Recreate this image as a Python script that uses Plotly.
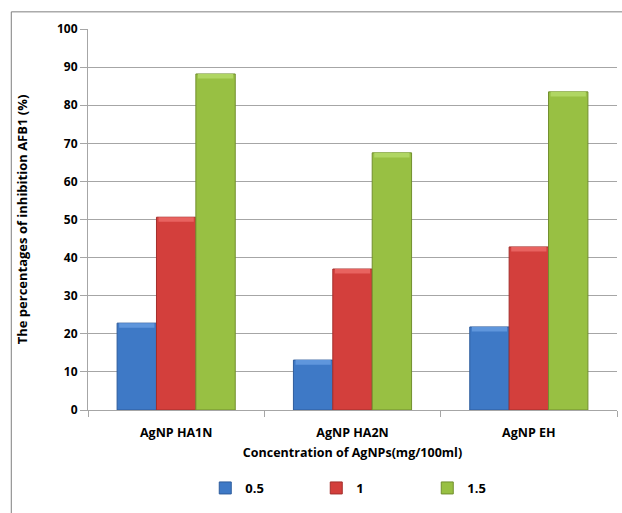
import plotly.graph_objects as go

categories = ["AgNP HA1N", "AgNP HA2N", "AgNP EH"]
series_names = ["0.5", "1", "1.5"]
values_05 = [22.8, 13.1, 21.8]
values_1 = [50.6, 37.0, 42.8]
values_15 = [88.2, 67.5, 83.5]

fill_colors = ["#3E79C6", "#D33F3C", "#98C043"]
edge_colors = ["#2E5C9C", "#A32E2B", "#718F2E"]
bevel_colors = ["#5F96DC", "#E86360", "#B0D663"]

font_family = "Open Sans, Noto Sans, Liberation Sans, sans-serif"
bevel_depth = 1.2  # height of the light top facet, in axis units

fig = go.Figure()
for i, (name, vals, fc, ec, bc) in enumerate(
        zip(series_names, [values_05, values_1, values_15], fill_colors, edge_colors, bevel_colors)):
    fig.add_trace(go.Bar(
        x=categories, y=vals, name=f"<b>{name}</b>", offsetgroup=str(i),
        marker=dict(color=fc, line=dict(color=ec, width=1)),
    ))
    # light facet along each bar top
    fig.add_trace(go.Bar(
        x=categories, y=[bevel_depth] * len(vals), base=[v - bevel_depth for v in vals],
        offsetgroup=str(i), showlegend=False, hoverinfo="skip", width=0.2,
        marker=dict(color=bc, line=dict(width=0)),
    ))

fig.update_layout(
    width=622, height=513,
    margin=dict(l=88, r=5, t=29, b=103, autoexpand=False),
    paper_bgcolor="white", plot_bgcolor="white",
    barmode="group", bargap=0.33, bargroupgap=0,
    font=dict(family=font_family, color="#000000"),
    showlegend=True,
    legend=dict(
        orientation="h", xref="container", yref="container",
        x=0.33, xanchor="left", y=1 - 488 / 513, yanchor="middle",
        entrywidth=66, entrywidthmode="pixels", itemwidth=30,
        font=dict(size=13, family=font_family, color="#000"),
        traceorder="normal", bgcolor="rgba(0,0,0,0)",
    ),
    xaxis=dict(
        showline=True, linecolor="#A6A6A6", linewidth=1,
        ticks="outside", tickson="boundaries", ticklen=6, tickcolor="#A6A6A6",
        ticklabelstandoff=11,
        tickfont=dict(size=12.5, family=font_family, color="#000"),
        tickprefix="<b>", ticksuffix="</b>",
        title=dict(text="<b>Concentration of AgNPs(mg/100ml)</b>", font=dict(size=12.5), standoff=8),
        showgrid=False, automargin=False,
    ),
    yaxis=dict(
        range=[0, 100], dtick=10,
        showline=True, linecolor="#A6A6A6", linewidth=1,
        ticks="outside", ticklen=7, tickcolor="#A6A6A6",
        tickfont=dict(size=12, family=font_family, color="#000"),
        tickprefix="<b>", ticksuffix="</b>",
        showgrid=True, gridcolor="#A6A6A6", gridwidth=1,
        zeroline=False, automargin=False,
        title=dict(text="<b>The percentages of inhibition AFB1 (%)</b>", font=dict(size=13), standoff=26),
    ),
)

# chart frame along the left and top edges
fig.add_shape(type="line", xref="paper", yref="paper", x0=-0.145, x1=1.02, y0=1.045, y1=1.045,
              line=dict(color="#7F7F7F", width=1))
fig.add_shape(type="line", xref="paper", yref="paper", x0=-0.145, x1=-0.145, y0=1.045, y1=-0.35,
              line=dict(color="#7F7F7F", width=1))

fig.write_html("out.html")
